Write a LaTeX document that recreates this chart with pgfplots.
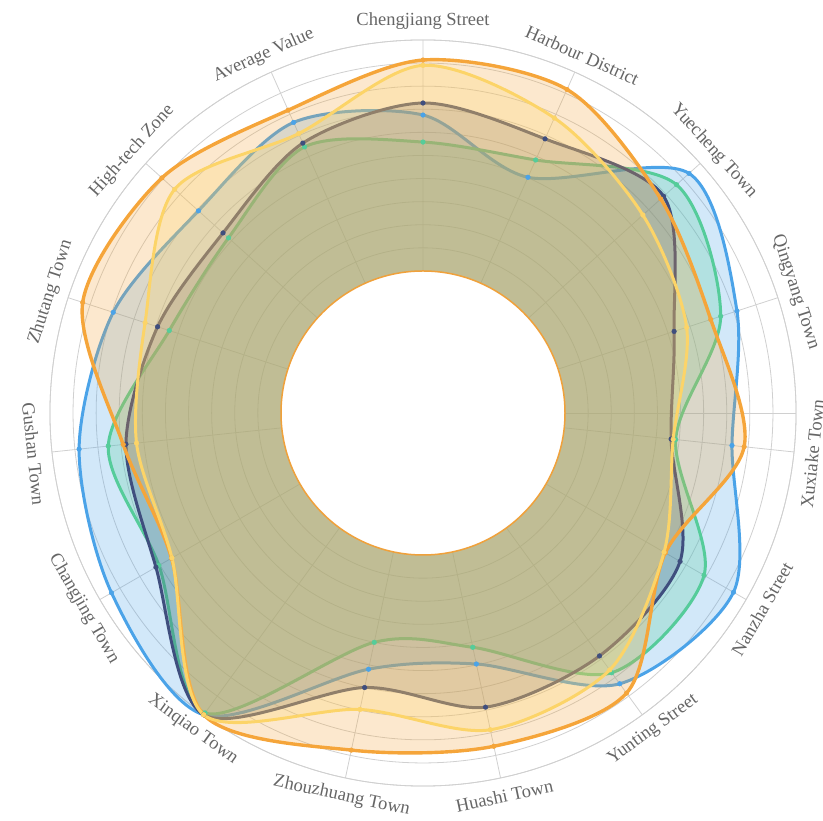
\documentclass[border=0pt]{standalone}
\usepackage{fontspec}
\setmainfont{Liberation Serif}
\usepackage{pgfplots}
\pgfplotsset{compat=1.18}
\usepackage{pgfplotstable}
\usepgfplotslibrary{polar}
\usetikzlibrary{calc}

\definecolor{cblue}{HTML}{4BA3E8}
\definecolor{cgreen}{HTML}{55CC9A}
\definecolor{cnavy}{HTML}{3F4E7E}
\definecolor{corange}{HTML}{F5A53A}
\definecolor{cyellow}{HTML}{FCD468}
\definecolor{cgrid}{HTML}{D0D0D0}
\definecolor{clabel}{HTML}{666666}

% angle (deg, counter-clockwise from east) and value on the 0-10 ring scale
\pgfplotstableread{
a   blue  green navy  orange yellow
90  6.75  5.58  7.27  9.13   8.90
66  5.02  5.84  6.84  9.18   7.83
42  9.35  8.62  7.87  7.70   6.66
18  8.14  7.40  5.28  6.95   5.85
354 7.30  4.85  4.65  7.83   4.74
330 9.37  7.90  6.70  5.96   5.90
306 8.34  7.75  6.85  8.84   7.60
282 4.96  4.22  6.87  8.60   7.87
258 5.19  4.00  6.00  8.77   6.97
234 10.0  9.90  10.0  10.0   10.0
210 9.42  7.05  7.20  6.42   6.40
186 8.82  7.55  6.78  6.90   6.32
162 7.95  5.40  5.93  9.34   6.50
138 6.93  5.18  5.50  9.06   8.32
114 7.62  6.46  6.64  8.20   7.09
}\data

\pgfplotsset{
  ser/.style={smooth cycle, draw=#1, line width=3pt, fill=#1, fill opacity=0.25,
    mark=*, mark size=2.3pt, mark options={draw=#1, fill=#1, fill opacity=1, line width=0.5pt}},
}

\begin{document}
\begin{tikzpicture}
\begin{polaraxis}[
  scale only axis, width=746.1pt, height=746.1pt,
  ymin=0, ymax=16.15,
  xtick={90,66,42,18,354,330,306,282,258,234,210,186,162,138,114},
  ytick={6.15,7.15,8.15,9.15,10.15,11.15,12.15,13.15,14.15,15.15,16.15},
  xticklabels={}, yticklabels={},
  major tick length=0pt,
  grid=major,
  major grid style={cgrid, line width=0.8pt},
  axis line style={cgrid, line width=0.8pt},
  clip=false,
]
\addplot[ser=cblue] table[x=a, y expr=\thisrow{blue}+6.15] {\data};
\addplot[ser=cgreen] table[x=a, y expr=\thisrow{green}+6.15] {\data};
\addplot[ser=cnavy] table[x=a, y expr=\thisrow{navy}+6.15] {\data};
\addplot[ser=corange, line width=3.4pt] table[x=a, y expr=\thisrow{orange}+6.15] {\data};
\addplot[ser=cyellow] table[x=a, y expr=\thisrow{yellow}+6.15] {\data};
\coordinate (c) at (axis cs:0,0);
\begin{scope}[every node/.style={font=\fontsize{18.5}{21}\selectfont, text=clabel, inner sep=0pt}]
\node[rotate=0]   at (axis cs:90,16.95)  {Chengjiang Street};
\node[rotate=-24] at (axis cs:66,16.95)  {Harbour District};
\node[rotate=-48] at (axis cs:42,16.95)  {Yuecheng Town};
\node[rotate=-72] at (axis cs:18,16.95)  {Qingyang Town};
\node[rotate=84]  at (axis cs:354,16.95) {Xuxiake Town};
\node[rotate=60]  at (axis cs:330,16.95) {Nanzha Street};
\node[rotate=36]  at (axis cs:306,16.95) {Yunting Street};
\node[rotate=12]  at (axis cs:282,16.95) {Huashi Town};
\node[rotate=-12] at (axis cs:258,16.95) {Zhouzhuang Town};
\node[rotate=-36] at (axis cs:234,16.95) {Xinqiao Town};
\node[rotate=-60] at (axis cs:210,16.95) {Changjing Town};
\node[rotate=-84] at (axis cs:186,16.95) {Gushan Town};
\node[rotate=72]  at (axis cs:162,16.95) {Zhutang Town};
\node[rotate=48]  at (axis cs:138,16.95) {High-tech Zone};
\node[rotate=24]  at (axis cs:114,16.95) {Average Value};
\end{scope}
\end{polaraxis}
\fill[white] (c) circle[radius=142pt];
\draw[corange!90!brown, line width=1.5pt] (c) circle[radius=142pt];
\pgfresetboundingbox
\path[use as bounding box] ($(c)+(-423pt,-408pt)$) rectangle ($(c)+(400pt,413pt)$);
\end{tikzpicture}
\end{document}
